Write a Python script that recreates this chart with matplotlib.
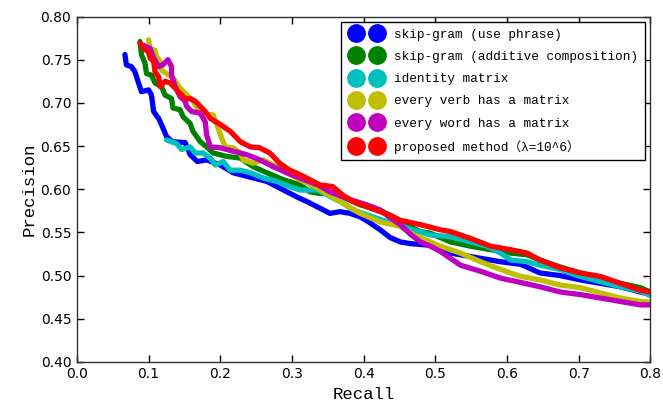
import matplotlib
matplotlib.use("Agg")
import matplotlib.pyplot as plt
from matplotlib.lines import Line2D
from matplotlib.legend_handler import HandlerLine2D

# precision / recall points
labels = [
    "skip-gram (use phrase)",
    "skip-gram (additive composition)",
    "identity matrix",
    "every verb has a matrix",
    "every word has a matrix",
    "proposed method（λ=10^6）",
]
colors = ["b", "g", "c", "y", "m", "r"]

blue_r = [0.067, 0.069, 0.076, 0.081, 0.086, 0.090, 0.100, 0.104, 0.107, 0.114, 0.120, 0.125, 0.133, 0.151,
          0.158, 0.168, 0.181, 0.200, 0.218, 0.265, 0.279, 0.307, 0.325, 0.339, 0.353, 0.367, 0.381, 0.395,
          0.409, 0.423, 0.437, 0.451, 0.465, 0.493, 0.521, 0.535, 0.563, 0.591, 0.619, 0.646, 0.674, 0.702,
          0.730, 0.758, 0.786, 0.800]
blue_p = [0.756, 0.744, 0.742, 0.736, 0.723, 0.713, 0.715, 0.709, 0.690, 0.682, 0.671, 0.661, 0.655, 0.654,
          0.640, 0.632, 0.634, 0.628, 0.619, 0.609, 0.603, 0.591, 0.584, 0.578, 0.572, 0.574, 0.572, 0.568,
          0.561, 0.553, 0.544, 0.539, 0.537, 0.535, 0.526, 0.524, 0.520, 0.516, 0.513, 0.503, 0.500, 0.495,
          0.491, 0.487, 0.481, 0.478]

green_r = [0.088, 0.090, 0.095, 0.097, 0.104, 0.109, 0.118, 0.123, 0.132, 0.134, 0.144, 0.148, 0.158, 0.162,
           0.172, 0.181, 0.190, 0.209, 0.228, 0.246, 0.265, 0.288, 0.311, 0.325, 0.339, 0.357, 0.395, 0.427,
           0.451, 0.479, 0.493, 0.521, 0.549, 0.577, 0.605, 0.628, 0.646, 0.674, 0.702, 0.730, 0.758, 0.786,
           0.800]
green_p = [0.771, 0.756, 0.746, 0.734, 0.732, 0.723, 0.719, 0.709, 0.705, 0.694, 0.692, 0.684, 0.676, 0.667,
           0.655, 0.649, 0.642, 0.638, 0.636, 0.626, 0.619, 0.611, 0.605, 0.597, 0.595, 0.596, 0.582, 0.574,
           0.562, 0.551, 0.549, 0.539, 0.534, 0.530, 0.526, 0.524, 0.518, 0.510, 0.503, 0.497, 0.491, 0.486,
           0.481]

cyan_r = [0.125, 0.139, 0.146, 0.158, 0.165, 0.176, 0.186, 0.193, 0.204, 0.214, 0.228, 0.242, 0.260, 0.279,
          0.297, 0.311, 0.336, 0.357, 0.371, 0.385, 0.423, 0.469, 0.493, 0.521, 0.549, 0.572, 0.591, 0.605,
          0.628, 0.646, 0.674, 0.702, 0.730, 0.758, 0.786, 0.800]
cyan_p = [0.657, 0.653, 0.646, 0.649, 0.642, 0.642, 0.636, 0.628, 0.632, 0.622, 0.622, 0.619, 0.613, 0.609,
          0.603, 0.599, 0.599, 0.590, 0.584, 0.576, 0.565, 0.553, 0.547, 0.545, 0.539, 0.534, 0.526, 0.518,
          0.516, 0.512, 0.507, 0.499, 0.493, 0.487, 0.482, 0.477]

yellow_r = [0.100, 0.102, 0.109, 0.111, 0.116, 0.118, 0.125, 0.134, 0.139, 0.144, 0.162, 0.172, 0.190, 0.197,
            0.202, 0.207, 0.218, 0.228, 0.232, 0.246, 0.260, 0.279, 0.293, 0.311, 0.336, 0.367, 0.395, 0.423,
            0.451, 0.465, 0.479, 0.507, 0.535, 0.563, 0.591, 0.619, 0.646, 0.674, 0.702, 0.730, 0.758, 0.786,
            0.800]
yellow_p = [0.773, 0.763, 0.761, 0.754, 0.748, 0.738, 0.734, 0.729, 0.723, 0.717, 0.702, 0.688, 0.686, 0.671,
            0.659, 0.649, 0.648, 0.642, 0.634, 0.630, 0.634, 0.626, 0.619, 0.611, 0.601, 0.586, 0.572, 0.562,
            0.557, 0.549, 0.544, 0.534, 0.526, 0.516, 0.507, 0.499, 0.495, 0.489, 0.486, 0.480, 0.474, 0.470,
            0.469]

magenta_r = [0.092, 0.102, 0.107, 0.114, 0.120, 0.127, 0.132, 0.132, 0.137, 0.144, 0.151, 0.153, 0.160, 0.172,
             0.179, 0.181, 0.186, 0.200, 0.218, 0.237, 0.255, 0.274, 0.293, 0.311, 0.336, 0.353, 0.381, 0.404,
             0.423, 0.437, 0.451, 0.465, 0.479, 0.493, 0.507, 0.521, 0.535, 0.563, 0.591, 0.619, 0.646, 0.674,
             0.702, 0.730, 0.758, 0.786, 0.800]
magenta_p = [0.767, 0.763, 0.752, 0.742, 0.744, 0.750, 0.742, 0.732, 0.719, 0.707, 0.702, 0.696, 0.690, 0.688,
             0.678, 0.663, 0.649, 0.648, 0.644, 0.640, 0.634, 0.626, 0.619, 0.613, 0.605, 0.597, 0.588, 0.582,
             0.576, 0.567, 0.559, 0.548, 0.539, 0.534, 0.528, 0.520, 0.512, 0.505, 0.497, 0.492, 0.487, 0.481,
             0.478, 0.474, 0.470, 0.466, 0.466]

red_r = [0.088, 0.093, 0.100, 0.102, 0.107, 0.109, 0.114, 0.116, 0.123, 0.130, 0.137, 0.144, 0.151, 0.158,
         0.165, 0.172, 0.179, 0.186, 0.200, 0.214, 0.228, 0.242, 0.255, 0.269, 0.283, 0.297, 0.311, 0.325,
         0.339, 0.357, 0.371, 0.385, 0.404, 0.423, 0.437, 0.451, 0.479, 0.507, 0.521, 0.549, 0.577, 0.605,
         0.628, 0.646, 0.674, 0.702, 0.730, 0.758, 0.786, 0.800]
red_p = [0.769, 0.763, 0.759, 0.752, 0.748, 0.736, 0.730, 0.719, 0.725, 0.723, 0.717, 0.711, 0.705, 0.705,
         0.702, 0.696, 0.690, 0.682, 0.675, 0.667, 0.655, 0.649, 0.648, 0.642, 0.630, 0.622, 0.617, 0.611,
         0.605, 0.603, 0.593, 0.586, 0.580, 0.574, 0.570, 0.564, 0.559, 0.553, 0.551, 0.543, 0.534, 0.530,
         0.526, 0.518, 0.509, 0.503, 0.499, 0.491, 0.483, 0.481]

recalls = [blue_r, green_r, cyan_r, yellow_r, magenta_r, red_r]
precisions = [blue_p, green_p, cyan_p, yellow_p, magenta_p, red_p]

mono = ["Liberation Mono", "Noto Sans CJK JP", "DejaVu Sans"]

fig = plt.figure(figsize=(6.63, 4.03), dpi=100)
ax = fig.add_axes([0.116, 0.102, 0.865, 0.857])

for r, p, c in zip(recalls, precisions, colors):
    ax.plot(r, p, color=c, lw=3.8, solid_capstyle="round", solid_joinstyle="round")

ax.set_xlim(0.0, 0.8)
ax.set_ylim(0.40, 0.80)
ax.set_xticks([i / 10 for i in range(9)])
ax.set_yticks([0.40 + 0.05 * i for i in range(9)])
ax.xaxis.set_major_formatter(plt.FormatStrFormatter("%.1f"))
ax.yaxis.set_major_formatter(plt.FormatStrFormatter("%.2f"))
ax.tick_params(direction="in", top=True, right=True, length=5, width=1, labelsize=10, pad=4)
for s in ax.spines.values():
    s.set_linewidth(1.0)
    s.set_color("#333333")

ax.set_xlabel("Recall", family=mono, fontsize=12.5, labelpad=4)
ax.set_ylabel("Precision", family=mono, fontsize=12.5, labelpad=3)

# legend: two big dots per entry, no line
handles = [Line2D([], [], color=c, marker="o", markersize=12.5, linestyle="none") for c in colors]
leg = ax.legend(handles, labels, loc="upper right", handler_map={Line2D: HandlerLine2D(numpoints=2, marker_pad=0.68)},
                handlelength=2.95, handletextpad=0.7, borderaxespad=0.45, labelspacing=0.8,
                fancybox=False, framealpha=1, edgecolor="black",
                prop={"family": mono, "size": 9.2}, borderpad=0.5)
leg.get_frame().set_linewidth(1.0)

fig.savefig("out.png", dpi=100)
